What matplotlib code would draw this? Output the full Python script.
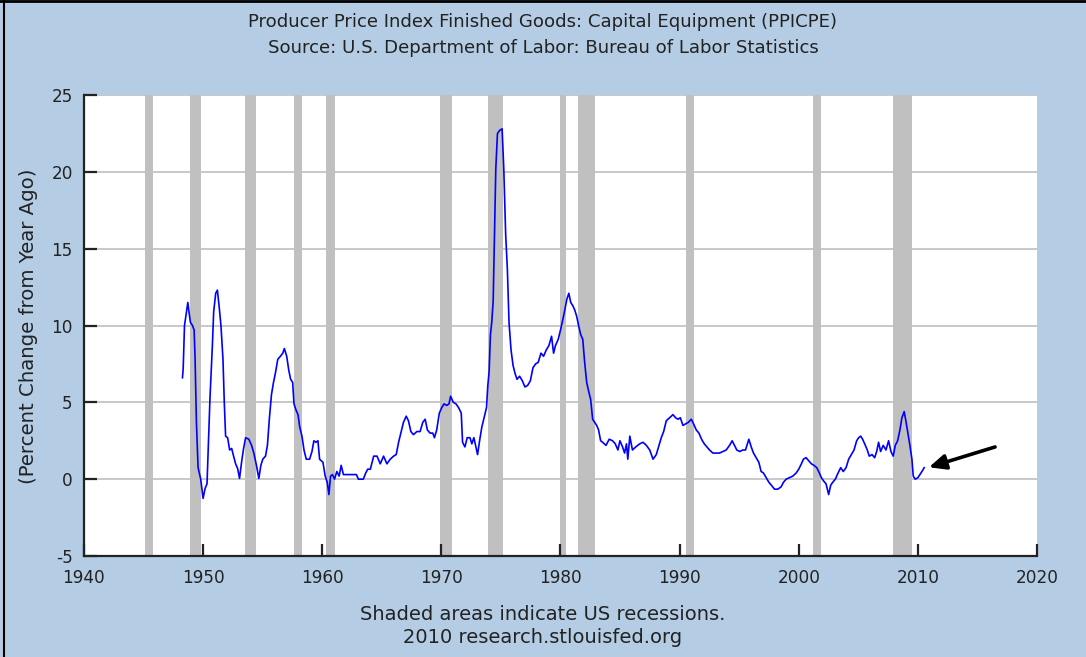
import matplotlib
matplotlib.use('Agg')
import matplotlib.pyplot as plt
from matplotlib.lines import Line2D

plt.rcParams['axes.unicode_minus'] = False

# =============================================================================
# Data, (year, percent change) pairs per era
# =============================================================================

pts_1948_1964 = [
    (1948.27, 6.6), (1948.33, 7.2), (1948.44, 10.0), (1948.61, 10.9), (1948.72, 11.5),
    (1948.83, 10.8), (1948.94, 10.2), (1949.11, 10.0), (1949.25, 9.7), (1949.33, 7.8),
    (1949.44, 3.7), (1949.58, 0.75), (1949.8, 0.0), (1950.0, -1.25), (1950.17, -0.6),
    (1950.33, -0.3), (1950.45, 2.3), (1950.58, 5.3), (1950.78, 8.7), (1950.89, 10.9),
    (1951.06, 12.1), (1951.2, 12.3), (1951.34, 11.3), (1951.5, 10.0), (1951.67, 7.8),
    (1951.78, 5.0), (1951.89, 2.8), (1952.06, 2.7), (1952.23, 1.9), (1952.4, 2.0),
    (1952.56, 1.5), (1952.73, 1.0), (1952.9, 0.7), (1953.06, 0.05), (1953.23, 1.1),
    (1953.4, 2.0), (1953.57, 2.7), (1953.84, 2.6), (1954.07, 2.2), (1954.26, 1.7),
    (1954.48, 0.9), (1954.68, 0.05), (1954.85, 0.9), (1955.01, 1.3), (1955.24, 1.5),
    (1955.4, 2.2), (1955.57, 4.0), (1955.74, 5.5), (1955.91, 6.3), (1956.07, 6.9),
    (1956.27, 7.8), (1956.49, 8.0), (1956.69, 8.2), (1956.82, 8.5), (1957.02, 8.0),
    (1957.19, 7.1), (1957.35, 6.5), (1957.52, 6.3), (1957.63, 4.9), (1957.8, 4.5),
    (1957.97, 4.2), (1958.11, 3.4), (1958.3, 2.8), (1958.47, 1.9), (1958.66, 1.3),
    (1958.94, 1.3), (1959.14, 1.8), (1959.3, 2.5), (1959.47, 2.4), (1959.64, 2.5),
    (1959.78, 1.3), (1960.06, 1.1), (1960.25, 0.2), (1960.42, -0.2), (1960.56, -1.0),
    (1960.7, 0.2), (1960.86, 0.3), (1961.03, 0.0), (1961.23, 0.5), (1961.42, 0.2),
    (1961.59, 0.9), (1961.78, 0.3), (1962.87, 0.3), (1963.04, 0.0), (1963.45, 0.0),
    (1963.65, 0.4), (1963.82, 0.65),
]

pts_1964_1986 = [
    (1964.04, 0.65), (1964.32, 1.5), (1964.6, 1.5), (1964.87, 1.0), (1965.15, 1.5),
    (1965.43, 1.0), (1965.71, 1.3), (1965.99, 1.5), (1966.21, 1.6), (1966.41, 2.4),
    (1966.6, 3.0), (1966.82, 3.7), (1967.05, 4.1), (1967.24, 3.8), (1967.44, 3.1),
    (1967.66, 2.9), (1967.94, 3.1), (1968.22, 3.1), (1968.44, 3.7), (1968.64, 3.9),
    (1968.83, 3.2), (1969.05, 3.0), (1969.28, 3.0), (1969.42, 2.7), (1969.61, 3.2),
    (1969.83, 4.3), (1970.03, 4.65), (1970.22, 4.9), (1970.45, 4.8), (1970.64, 4.9),
    (1970.78, 5.4), (1971.0, 5.0), (1971.23, 4.9), (1971.45, 4.65), (1971.67, 4.3),
    (1971.78, 2.4), (1971.98, 2.1), (1972.17, 2.7), (1972.4, 2.7), (1972.56, 2.3),
    (1972.73, 2.7), (1972.9, 2.1), (1973.04, 1.6), (1973.23, 2.6), (1973.4, 3.4),
    (1973.59, 4.0), (1973.79, 4.65), (1973.9, 6.1), (1974.01, 7.0), (1974.12, 9.4),
    (1974.23, 10.2), (1974.35, 11.6), (1974.46, 15.9), (1974.57, 20.2), (1974.71, 22.5),
    (1974.9, 22.7), (1975.1, 22.8), (1975.24, 20.2), (1975.4, 15.9), (1975.54, 13.7),
    (1975.68, 10.2), (1975.85, 8.4), (1976.02, 7.4), (1976.18, 6.9), (1976.35, 6.5),
    (1976.57, 6.7), (1976.8, 6.4), (1977.02, 6.0), (1977.24, 6.1), (1977.47, 6.4),
    (1977.69, 7.25), (1977.91, 7.5), (1978.13, 7.6), (1978.36, 8.2), (1978.58, 8.0),
    (1978.8, 8.4), (1979.03, 8.7), (1979.25, 9.3), (1979.42, 8.2), (1979.58, 8.7),
    (1979.81, 9.1), (1980.03, 9.8), (1980.2, 10.4), (1980.36, 11.0), (1980.53, 11.7),
    (1980.7, 12.1), (1980.86, 11.5), (1981.03, 11.3), (1981.2, 11.0), (1981.36, 10.6),
    (1981.53, 9.96), (1981.7, 9.4), (1981.87, 9.1), (1982.03, 7.6), (1982.2, 6.3),
    (1982.37, 5.7), (1982.53, 5.2), (1982.7, 3.9), (1982.87, 3.7), (1983.04, 3.5),
    (1983.2, 3.2), (1983.37, 2.5), (1983.54, 2.4), (1983.82, 2.2), (1984.09, 2.6),
    (1984.37, 2.5), (1984.6, 2.3), (1984.82, 1.9), (1984.99, 2.5), (1985.21, 2.1),
    (1985.38, 1.7), (1985.54, 2.3), (1985.65, 1.3), (1985.82, 2.8), (1986.04, 1.9),
    (1986.32, 2.1),
]

pts_1986_2010 = [
    (1986.65, 2.3), (1986.93, 2.4), (1987.21, 2.2), (1987.49, 1.9), (1987.77, 1.3),
    (1988.04, 1.6), (1988.27, 2.2), (1988.46, 2.7), (1988.66, 3.1), (1988.88, 3.8),
    (1989.16, 4.0), (1989.44, 4.2), (1989.66, 4.0), (1989.86, 3.9), (1990.06, 4.0),
    (1990.28, 3.5), (1990.5, 3.6), (1990.73, 3.7), (1990.98, 3.9), (1991.17, 3.6),
    (1991.4, 3.2), (1991.62, 3.0), (1991.84, 2.6), (1992.07, 2.3), (1992.29, 2.1),
    (1992.51, 1.9), (1992.79, 1.7), (1993.07, 1.7), (1993.35, 1.7), (1993.63, 1.8),
    (1993.91, 1.9), (1994.19, 2.2), (1994.41, 2.5), (1994.61, 2.2), (1994.8, 1.9),
    (1995.03, 1.8), (1995.31, 1.9), (1995.53, 1.9), (1995.73, 2.4), (1995.81, 2.6),
    (1996.01, 2.1), (1996.2, 1.7), (1996.42, 1.4), (1996.65, 1.1), (1996.84, 0.5),
    (1997.04, 0.4), (1997.26, 0.1), (1997.49, -0.2), (1997.71, -0.4), (1997.96, -0.65),
    (1998.24, -0.65), (1998.52, -0.5), (1998.72, -0.2), (1998.94, 0.0), (1999.22, 0.1),
    (1999.5, 0.2), (1999.78, 0.4), (2000.0, 0.65), (2000.22, 1.0), (2000.39, 1.3),
    (2000.61, 1.4), (2000.84, 1.2), (2001.06, 1.0), (2001.28, 0.9), (2001.51, 0.75),
    (2001.73, 0.4), (2001.9, 0.1), (2002.07, -0.1), (2002.29, -0.3), (2002.51, -1.0),
    (2002.68, -0.4), (2002.85, -0.2), (2003.07, 0.0), (2003.3, 0.4), (2003.52, 0.75),
    (2003.74, 0.5), (2003.97, 0.75), (2004.19, 1.3), (2004.41, 1.6), (2004.64, 1.9),
    (2004.86, 2.5), (2005.03, 2.7), (2005.2, 2.8), (2005.36, 2.6), (2005.59, 2.2),
    (2005.75, 1.9), (2005.92, 1.5), (2006.15, 1.6), (2006.37, 1.4), (2006.54, 1.8),
    (2006.7, 2.4), (2006.87, 1.8), (2007.09, 2.2), (2007.32, 1.9), (2007.54, 2.5),
    (2007.74, 1.8), (2007.93, 1.5), (2008.1, 2.2), (2008.3, 2.5), (2008.49, 3.2),
    (2008.66, 4.0), (2008.85, 4.4), (2008.99, 3.8), (2009.16, 3.0), (2009.33, 2.2),
    (2009.5, 1.3), (2009.61, 0.2), (2009.78, 0.0), (2010.0, 0.1), (2010.17, 0.3),
    (2010.34, 0.5), (2010.53, 0.75),
]

rec_start = [1945.1, 1948.9, 1953.5, 1957.6, 1960.3, 1969.9, 1973.9, 1980.0,
             1981.5, 1990.5, 2001.2, 2007.9]
rec_end = [1945.8, 1949.8, 1954.4, 1958.3, 1961.1, 1970.9, 1975.2, 1980.5,
           1982.9, 1991.2, 2001.9, 2009.5]

x_ticks = [1940, 1950, 1960, 1970, 1980, 1990, 2000, 2010, 2020]
y_ticks = [-5, 0, 5, 10, 15, 20, 25]

title_lines = ["Producer Price Index Finished Goods: Capital Equipment (PPICPE)",
               "Source: U.S. Department of Labor: Bureau of Labor Statistics"]
ylabel_text = "(Percent Change from Year Ago)"
note_lines = ["Shaded areas indicate US recessions.", "2010 research.stlouisfed.org"]

arrow_tip = (2010.7, 0.72)
arrow_tail = (2016.7, 2.15)

all_pts = pts_1948_1964 + pts_1964_1986 + pts_1986_2010
years = [p[0] for p in all_pts]
values = [p[1] for p in all_pts]

# =============================================================================
# Figure
# =============================================================================

bg = '#b4cde4'
text_col = '#222222'

fig = plt.figure(figsize=(10.86, 6.57), dpi=100, facecolor=bg)
ax = fig.add_axes([0.0773, 0.1537, 0.8776, 0.7017])
ax.set_facecolor('white')

for s, e in zip(rec_start, rec_end):
    ax.axvspan(s, e, color='#c0c0c0', lw=0, zorder=1)

for yv in y_ticks[1:]:
    ax.axhline(yv, color='#c8c8c8', lw=1.4, zorder=0.5)

ax.plot(years, values, color='#0000ff', lw=1.2, zorder=3)

ax.annotate('', xy=arrow_tip, xytext=arrow_tail,
            arrowprops=dict(arrowstyle='-|>,head_length=1.0,head_width=0.45',
                            color='black', lw=2.6), zorder=4)

ax.set_xlim(1940, 2020)
ax.set_ylim(-5, 25)
ax.set_xticks(x_ticks)
ax.set_yticks(y_ticks)
ax.tick_params(direction='in', length=9, width=1.6, color='#222222',
               labelsize=12.2, labelcolor=text_col)
ax.tick_params(axis='x', pad=9)
ax.tick_params(axis='y', pad=8)

for side in ['top', 'right']:
    ax.spines[side].set_visible(False)
for side in ['left', 'bottom']:
    ax.spines[side].set_color('#222222')
    ax.spines[side].set_linewidth(1.6)

fig.text(0.026, 0.504, ylabel_text, rotation=90, ha='center', va='center',
         fontsize=14.2, color=text_col)

fig.text(0.5, 0.9665, title_lines[0], ha='center', va='center', fontsize=13.1,
         color=text_col)
fig.text(0.5, 0.927, title_lines[1], ha='center', va='center', fontsize=13.1,
         color=text_col)
fig.text(0.5, 0.0654, note_lines[0], ha='center', va='center', fontsize=14,
         color=text_col)
fig.text(0.5, 0.029, note_lines[1], ha='center', va='center', fontsize=14,
         color=text_col)

# dark frame on the top and left edges, as in the screenshot
fig.add_artist(Line2D([0.004, 0.004], [0, 1], color='black', lw=1.5,
                      transform=fig.transFigure))
fig.add_artist(Line2D([0, 1], [0.998, 0.998], color='black', lw=2,
                      transform=fig.transFigure))

fig.savefig('out.png', dpi=100, facecolor=bg)
